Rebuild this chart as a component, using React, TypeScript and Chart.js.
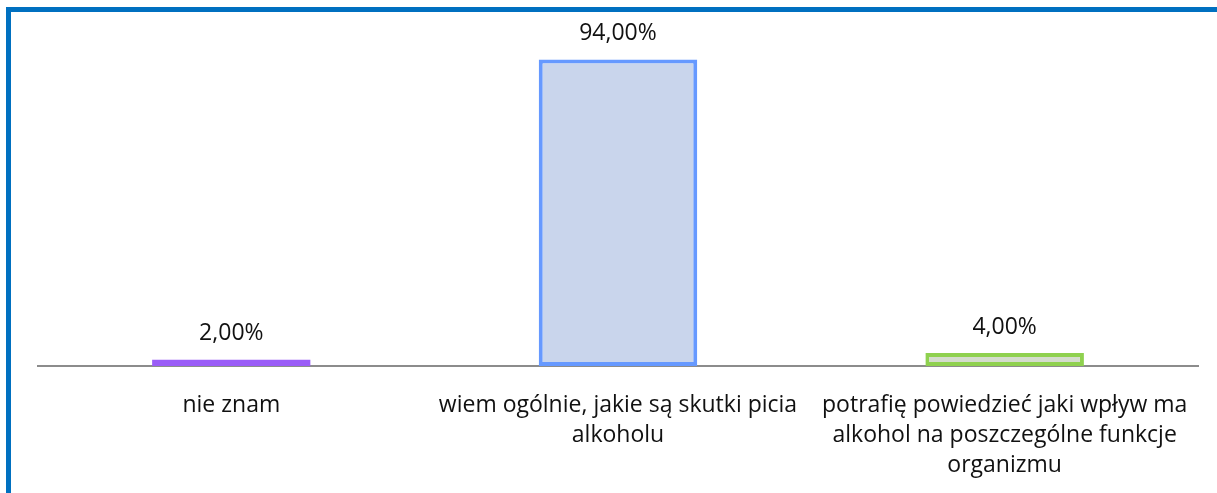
import React, { useEffect, useRef } from "react";
import { Chart, registerables } from "chart.js";

Chart.register(...registerables);

const categories: string[][] = [
  ["nie znam"],
  ["wiem ogólnie, jakie są skutki picia", "alkoholu"],
  ["potrafię powiedzieć jaki wpływ ma", "alkohol na poszczególne funkcje", "organizmu"],
];
const values: number[] = [0.02, 0.94, 0.04];
const valueLabels: string[] = ["2,00%", "94,00%", "4,00%"];
const fillColors: string[] = ["#C7B3F0", "#C9D5EC", "#D4DCCD"];
const borderColors: string[] = ["#9A5CF7", "#6699FF", "#8FD14F"];

const FONT = "'Open Sans', sans-serif";

const valueLabelPlugin = {
  id: "valueLabels",
  afterDatasetsDraw(chart: any) {
    const ctx = chart.ctx;
    const meta = chart.getDatasetMeta(0);
    ctx.save();
    ctx.font = `23px ${FONT}`;
    ctx.fillStyle = "#111";
    ctx.textAlign = "center";
    ctx.textBaseline = "middle";
    meta.data.forEach((bar: any, i: number) => {
      ctx.fillText(valueLabels[i], bar.x, bar.y - 26);
    });
    ctx.restore();
  },
};

export default function App() {
  const ref = useRef<HTMLCanvasElement | null>(null);
  useEffect(() => {
    if (!ref.current) return;
    const chart = new Chart(ref.current, {
      type: "bar",
      data: {
        labels: categories,
        datasets: [
          {
            data: values,
            backgroundColor: fillColors,
            borderColor: borderColors,
            borderWidth: 4,
            borderSkipped: false,
            categoryPercentage: 1,
            barPercentage: 0.41,
          },
        ],
      },
      options: {
        animation: false,
        responsive: false,
        layout: { padding: { left: 38, right: 19, top: 40, bottom: 0 } },
        plugins: { legend: { display: false }, tooltip: { enabled: false } },
        scales: {
          y: { display: false, min: 0, max: 1 },
          x: {
            grid: { display: false, drawTicks: false },
            border: { display: true, color: "#8C8C8C", width: 2 },
            ticks: {
              color: "#111",
              font: { family: FONT, size: 23, lineHeight: 1.3 },
              padding: 25,
              maxRotation: 0,
              autoSkip: false,
            },
            afterFit: (s: any) => {
              s.height = 127;
            },
          },
        },
      },
      plugins: [valueLabelPlugin],
    });
    return () => chart.destroy();
  }, []);
  return (
    <div style={{ position: "fixed", left: 0, top: 0, width: 1217, height: 493, background: "#fff", overflow: "hidden" }}>
      <canvas ref={ref} width={1217} height={493} style={{ position: "absolute", left: 0, top: 0 }} />
      <div
        style={{
          position: "absolute",
          left: 6,
          top: 7,
          width: 1300,
          height: 600,
          borderLeft: "5px solid #0070C0",
          borderTop: "5px solid #0070C0",
          pointerEvents: "none",
        }}
      />
    </div>
  );
}
